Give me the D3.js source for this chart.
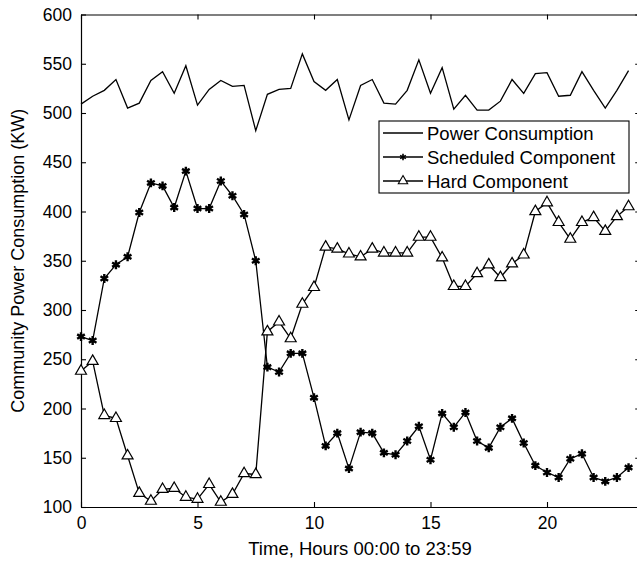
<!DOCTYPE html>
<html>
<head>
<meta charset="utf-8">
<script src="https://cdn.jsdelivr.net/npm/d3@7"></script>
<style>
  body { margin: 0; background: #fff; }
  svg { display: block; font-family: "Liberation Sans", Arial, sans-serif; }
</style>
</head>
<body>
<svg id="chart"></svg>
<script>
// data, one value every half hour (0 .. 23.5)
var hours = d3.range(48).map(function (i) { return i / 2; });

var power = [509, 517, 523, 534, 505, 510, 533, 542, 520, 548, 508, 524,
             533, 527, 528, 482, 519, 524, 525, 560, 532, 523, 534, 493,
             528, 534, 510, 509, 523, 554, 520, 546, 504, 518, 503, 503,
             512, 534, 520, 540, 541, 517, 518, 542, 523, 505, 523, 543];

var scheduled = [273, 269, 332, 346, 354, 399, 429, 426, 404, 441, 403, 403,
                 431, 416, 397, 350, 242, 237, 256, 256, 211, 162, 175, 139,
                 176, 175, 155, 153, 167, 182, 148, 195, 181, 196, 167, 160,
                 181, 190, 165, 142, 135, 130, 149, 154, 130, 126, 130, 140];

var hard = [238, 248, 193, 190, 152, 114, 106, 118, 119, 110, 108, 123,
            105, 113, 134, 133, 278, 288, 271, 306, 323, 364, 362, 357,
            354, 362, 358, 358, 358, 374, 374, 353, 324, 324, 337, 346,
            333, 347, 356, 400, 409, 389, 372, 389, 394, 380, 395, 405];

var legend_labels = ["Power Consumption", "Scheduled Component", "Hard Component"];
var x_ticks = [0, 5, 10, 15, 20];
var y_ticks = [100, 150, 200, 250, 300, 350, 400, 450, 500, 550, 600];

// MAIN
var width = 637, height = 563;
var svg = d3.select("#chart").attr("width", width).attr("height", height);

var x = d3.scaleLinear().domain([0, 24]).range([81, 640.2]);
var y = d3.scaleLinear().domain([100, 600]).range([507, 14.5]);

// axes box with inward ticks
svg.append("g")
    .attr("transform", "translate(0," + y(100) + ")")
    .call(d3.axisBottom(x).tickValues(x_ticks).tickSizeInner(-5).tickSizeOuter(0).tickPadding(10))
    .call(styleAxis);

svg.append("g")
    .attr("transform", "translate(0," + y(600) + ")")
    .call(d3.axisTop(x).tickValues(x_ticks).tickSizeInner(-5).tickSizeOuter(0).tickFormat(""))
    .call(styleAxis);

svg.append("g")
    .attr("transform", "translate(" + x(0) + ",0)")
    .call(d3.axisLeft(y).tickValues(y_ticks).tickSizeInner(-5).tickSizeOuter(0).tickPadding(9))
    .call(styleAxis);

svg.append("g")
    .attr("transform", "translate(" + x(24) + ",0)")
    .call(d3.axisRight(y).tickValues(y_ticks).tickSizeInner(-5).tickSizeOuter(0).tickFormat(""))
    .call(styleAxis);

function styleAxis(g) {
    g.select(".domain").attr("stroke", "#000").attr("stroke-width", 1.2);
    g.selectAll(".tick line").attr("stroke", "#000").attr("stroke-width", 1.1);
    g.selectAll(".tick text")
        .attr("fill", "#000")
        .attr("font-size", "17.5px")
        .attr("font-family", "Liberation Sans, Arial, sans-serif");
}

// labels
svg.append("text")
    .attr("x", 360)
    .attr("y", 555)
    .attr("text-anchor", "middle")
    .attr("font-size", "18.5px")
    .text("Time, Hours 00:00 to 23:59");

svg.append("text")
    .attr("transform", "translate(24," + (y(350)) + ") rotate(-90)")
    .attr("text-anchor", "middle")
    .attr("font-size", "18px")
    .text("Community Power Consumption (KW)");

// lines
var line = d3.line()
    .x(function (d, i) { return x(hours[i]); })
    .y(function (d) { return y(d); });

[power, scheduled, hard].forEach(function (s) {
    svg.append("path")
        .datum(s)
        .attr("fill", "none")
        .attr("stroke", "#000")
        .attr("stroke-width", 1.3)
        .attr("d", line);
});

var star = d3.symbol().type(d3.symbolAsterisk).size(55);
var tri = d3.symbol().type(d3.symbolTriangle).size(52);

svg.append("g").selectAll("path")
    .data(scheduled).enter()
    .append("path")
    .attr("d", star)
    .attr("transform", function (d, i) { return "translate(" + x(hours[i]) + "," + y(d) + ")"; })
    .attr("fill", "none")
    .attr("stroke", "#000")
    .attr("stroke-width", 2.4);

svg.append("g").selectAll("path")
    .data(hard).enter()
    .append("path")
    .attr("d", tri)
    .attr("transform", function (d, i) { return "translate(" + x(hours[i]) + "," + y(d) + ")"; })
    .attr("fill", "#fff")
    .attr("stroke", "#000")
    .attr("stroke-width", 1.2);

// legend
var legend = svg.append("g");
legend.append("rect")
    .attr("x", 379).attr("y", 121)
    .attr("width", 250).attr("height", 72)
    .attr("fill", "#fff")
    .attr("stroke", "#000")
    .attr("stroke-width", 1.1);

legend_labels.forEach(function (lab, i) {
    var cy = 133 + i * 24;
    legend.append("line")
        .attr("x1", 383).attr("x2", 423)
        .attr("y1", cy).attr("y2", cy)
        .attr("stroke", "#000").attr("stroke-width", 1.3);
    if (i === 1) {
        legend.append("path")
            .attr("d", d3.symbol().type(d3.symbolAsterisk).size(30))
            .attr("transform", "translate(403," + cy + ")")
            .attr("stroke", "#000").attr("stroke-width", 1.6).attr("fill", "none");
    }
    if (i === 2) {
        legend.append("path")
            .attr("d", d3.symbol().type(d3.symbolTriangle).size(38))
            .attr("transform", "translate(403," + cy + ")")
            .attr("stroke", "#000").attr("stroke-width", 1.1).attr("fill", "#fff");
    }
    legend.append("text")
        .attr("x", 427)
        .attr("y", cy + 6.5)
        .attr("font-size", "18.5px")
        .text(lab);
});
</script>
</body>
</html>
